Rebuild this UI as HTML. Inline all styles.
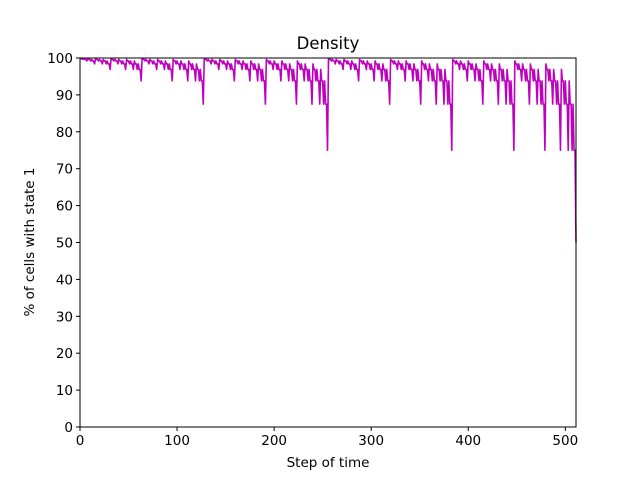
<!DOCTYPE html>
<html><head><meta charset="utf-8">
<style>
body{margin:0;background:#fff;}
svg text{font-family:"DejaVu Sans","Liberation Sans",sans-serif;fill:#000;}
</style></head>
<body>
<svg id="chart" width="640" height="480">
<rect width="640" height="480" fill="#fff"/>
<text x="328" y="49" font-size="16.5" text-anchor="middle">Density</text>
<g id="xticks"></g><g id="yticks"></g>
<polyline id="line" fill="none" stroke="#bf00bf" stroke-width="1.6" stroke-linejoin="round"/>
<rect x="80" y="58" width="496" height="369" fill="none" stroke="#000" stroke-width="1"/>
<text x="328" y="467" font-size="13.5" text-anchor="middle">Step of time</text>
<text transform="translate(34,242) rotate(-90)" font-size="13.5" text-anchor="middle">% of cells with state 1</text>
</svg>
<script>
const xTickValues=[0,100,200,300,400,500];
const yTickValues=[0,10,20,30,40,50,60,70,80,90,100];
const density=[
99.9,99.8,99.8,99.6,99.8,99.6,99.6,99.2,99.8,99.6,99.6,99.2,99.6,99.2,99.2,98.4,99.8,99.6,99.6,99.2,99.6,99.2,99.2,98.4,99.6,99.2,99.2,98.4,99.2,98.4,98.4,96.9,
99.8,99.6,99.6,99.2,99.6,99.2,99.2,98.4,99.6,99.2,99.2,98.4,99.2,98.4,98.4,96.9,99.6,99.2,99.2,98.4,99.2,98.4,98.4,96.9,99.2,98.4,98.4,96.9,98.4,96.9,96.9,93.8,
99.8,99.6,99.6,99.2,99.6,99.2,99.2,98.4,99.6,99.2,99.2,98.4,99.2,98.4,98.4,96.9,99.6,99.2,99.2,98.4,99.2,98.4,98.4,96.9,99.2,98.4,98.4,96.9,98.4,96.9,96.9,93.8,
99.6,99.2,99.2,98.4,99.2,98.4,98.4,96.9,99.2,98.4,98.4,96.9,98.4,96.9,96.9,93.8,99.2,98.4,98.4,96.9,98.4,96.9,96.9,93.8,98.4,96.9,96.9,93.8,96.9,93.8,93.8,87.5,
99.8,99.6,99.6,99.2,99.6,99.2,99.2,98.4,99.6,99.2,99.2,98.4,99.2,98.4,98.4,96.9,99.6,99.2,99.2,98.4,99.2,98.4,98.4,96.9,99.2,98.4,98.4,96.9,98.4,96.9,96.9,93.8,
99.6,99.2,99.2,98.4,99.2,98.4,98.4,96.9,99.2,98.4,98.4,96.9,98.4,96.9,96.9,93.8,99.2,98.4,98.4,96.9,98.4,96.9,96.9,93.8,98.4,96.9,96.9,93.8,96.9,93.8,93.8,87.5,
99.6,99.2,99.2,98.4,99.2,98.4,98.4,96.9,99.2,98.4,98.4,96.9,98.4,96.9,96.9,93.8,99.2,98.4,98.4,96.9,98.4,96.9,96.9,93.8,98.4,96.9,96.9,93.8,96.9,93.8,93.8,87.5,
99.2,98.4,98.4,96.9,98.4,96.9,96.9,93.8,98.4,96.9,96.9,93.8,96.9,93.8,93.8,87.5,98.4,96.9,96.9,93.8,96.9,93.8,93.8,87.5,96.9,93.8,93.8,87.5,93.8,87.5,87.5,75,
99.8,99.6,99.6,99.2,99.6,99.2,99.2,98.4,99.6,99.2,99.2,98.4,99.2,98.4,98.4,96.9,99.6,99.2,99.2,98.4,99.2,98.4,98.4,96.9,99.2,98.4,98.4,96.9,98.4,96.9,96.9,93.8,
99.6,99.2,99.2,98.4,99.2,98.4,98.4,96.9,99.2,98.4,98.4,96.9,98.4,96.9,96.9,93.8,99.2,98.4,98.4,96.9,98.4,96.9,96.9,93.8,98.4,96.9,96.9,93.8,96.9,93.8,93.8,87.5,
99.6,99.2,99.2,98.4,99.2,98.4,98.4,96.9,99.2,98.4,98.4,96.9,98.4,96.9,96.9,93.8,99.2,98.4,98.4,96.9,98.4,96.9,96.9,93.8,98.4,96.9,96.9,93.8,96.9,93.8,93.8,87.5,
99.2,98.4,98.4,96.9,98.4,96.9,96.9,93.8,98.4,96.9,96.9,93.8,96.9,93.8,93.8,87.5,98.4,96.9,96.9,93.8,96.9,93.8,93.8,87.5,96.9,93.8,93.8,87.5,93.8,87.5,87.5,75,
99.6,99.2,99.2,98.4,99.2,98.4,98.4,96.9,99.2,98.4,98.4,96.9,98.4,96.9,96.9,93.8,99.2,98.4,98.4,96.9,98.4,96.9,96.9,93.8,98.4,96.9,96.9,93.8,96.9,93.8,93.8,87.5,
99.2,98.4,98.4,96.9,98.4,96.9,96.9,93.8,98.4,96.9,96.9,93.8,96.9,93.8,93.8,87.5,98.4,96.9,96.9,93.8,96.9,93.8,93.8,87.5,96.9,93.8,93.8,87.5,93.8,87.5,87.5,75,
99.2,98.4,98.4,96.9,98.4,96.9,96.9,93.8,98.4,96.9,96.9,93.8,96.9,93.8,93.8,87.5,98.4,96.9,96.9,93.8,96.9,93.8,93.8,87.5,96.9,93.8,93.8,87.5,93.8,87.5,87.5,75,
98.4,96.9,96.9,93.8,96.9,93.8,93.8,87.5,96.9,93.8,93.8,87.5,93.8,87.5,87.5,75,96.9,93.8,93.8,87.5,93.8,87.5,87.5,75,93.8,87.5,87.5,75,87.5,75,75,50
];
const NS="http://www.w3.org/2000/svg";
const L=80,R=576,T=58,B=427,XMAX=511,YMAX=100;
function xs(t){return L+t*(R-L)/XMAX;}
function ys(v){return B-v*(B-T)/YMAX;}
const xg=document.getElementById('xticks'),yg=document.getElementById('yticks');
xTickValues.forEach(v=>{
  const ln=document.createElementNS(NS,'line');
  ln.setAttribute('x1',xs(v));ln.setAttribute('x2',xs(v));ln.setAttribute('y1',B);ln.setAttribute('y2',B+4);
  ln.setAttribute('stroke','#000');
  
  
  xg.appendChild(ln);
  const tx=document.createElementNS(NS,'text');
  tx.setAttribute('x',xs(v));tx.setAttribute('y',B+18);tx.setAttribute('font-size','13.5');tx.setAttribute('text-anchor','middle');
  tx.textContent=v;
  
  
  xg.appendChild(tx);
});
yTickValues.forEach(v=>{
  const ln=document.createElementNS(NS,'line');
  ln.setAttribute('x1',L-4);ln.setAttribute('x2',L);ln.setAttribute('y1',ys(v));ln.setAttribute('y2',ys(v));
  ln.setAttribute('stroke','#000');
  
  
  yg.appendChild(ln);
  const tx=document.createElementNS(NS,'text');
  tx.setAttribute('x',L-7);tx.setAttribute('y',ys(v)+5);tx.setAttribute('font-size','13.5');tx.setAttribute('text-anchor','end');
  tx.textContent=v;
  
  
  yg.appendChild(tx);
});
document.getElementById('line').setAttribute('points',density.map((v,i)=>xs(i).toFixed(2)+','+ys(v).toFixed(2)).join(' '));
</script>
</body></html>
